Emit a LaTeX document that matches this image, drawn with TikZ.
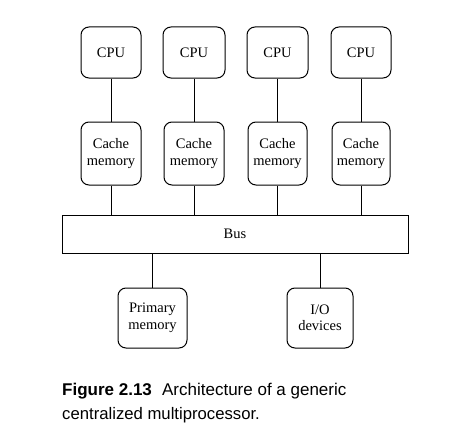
\documentclass[tikz,border=0pt]{standalone}
\usepackage{fontspec}
\setmainfont{Liberation Serif}
\newfontfamily\capfont{Liberation Sans}
\begin{document}
\begin{tikzpicture}[x=1pt,y=-1pt,
  unit/.style={draw=black,line width=1pt,rounded corners=8pt,align=center,
    font=\fontsize{14.5}{16.5}\selectfont,inner sep=0pt},
  link/.style={draw=black,line width=1pt}]
\useasboundingbox (0,0) rectangle (452,428);
% CPUs
\node[unit,minimum width=60pt,minimum height=51pt] (cpu1) at (111,52.5) {CPU};
\node[unit,minimum width=62pt,minimum height=51pt] (cpu2) at (194,52.5) {CPU};
\node[unit,minimum width=61pt,minimum height=51pt] (cpu3) at (277.5,52.5) {CPU};
\node[unit,minimum width=60pt,minimum height=51pt] (cpu4) at (361,52.5) {CPU};
% caches
\node[unit,minimum width=60pt,minimum height=63pt] (c1) at (111,153.5) {Cache\\memory};
\node[unit,minimum width=60pt,minimum height=63pt] (c2) at (194,153.5) {Cache\\memory};
\node[unit,minimum width=59pt,minimum height=63pt] (c3) at (277.5,153.5) {Cache\\memory};
\node[unit,minimum width=58pt,minimum height=63pt] (c4) at (361,153.5) {Cache\\memory};
% bus
\node[draw=black,line width=1pt,minimum width=346pt,minimum height=38pt,inner sep=0pt,
  font=\fontsize{14.5}{16.5}\selectfont] (bus) at (235,234) {Bus};
% bottom units
\node[unit,minimum width=69pt,minimum height=60pt] (pm) at (152.5,318) {Primary\\memory};
\node[unit,minimum width=66pt,minimum height=60pt] (io) at (320,318) {I/O\\devices};
% connectors
\foreach \i in {1,2,3,4} {
  \draw[link] (cpu\i.south) -- (c\i.north);
  \draw[link] (c\i.south) -- (c\i.south |- bus.north);
}
\draw[link] (pm.north) -- (pm.north |- bus.south);
\draw[link] (io.north) -- (io.north |- bus.south);
% caption
\node[anchor=base west,inner sep=0pt,font=\capfont\fontsize{17}{22}\selectfont] (cap1) at (62,395)
  {\textbf{Figure 2.13}\hspace{0.6em}Architecture of a generic};
\node[anchor=base west,inner sep=0pt,font=\capfont\fontsize{16.7}{22}\selectfont] (cap2) at (62,419)
  {centralized multiprocessor.};
\end{tikzpicture}
\end{document}
